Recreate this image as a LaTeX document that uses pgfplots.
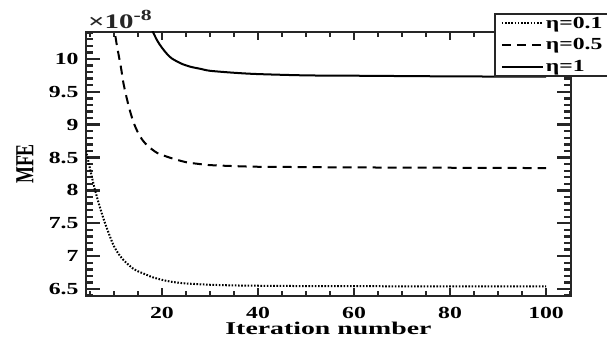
\documentclass[border=0pt]{standalone}
\usepackage{fontspec}
\usepackage{graphicx}
\setmainfont{Liberation Serif}[FakeStretch=1.4]
\newfontfamily\labfont{Liberation Serif}[FakeStretch=1.55]
\newfontfamily\plainfont{Liberation Serif}
\usepackage{pgfplots}
\pgfplotsset{compat=1.18}
\definecolor{axgray}{RGB}{38,38,38}
\pgfplotsset{
  common/.style={
    at={(0,0)}, anchor=south west,
    width=485bp, height=264bp, scale only axis,
    xmin=4.17, xmax=105.2, ymin=6.394, ymax=10.41,
    tick align=inside,
    every tick/.style={line width=2.4bp, color=axgray},
    /pgf/number format/assume math mode=true,
    tick label style={font=\fontsize{17}{20}\selectfont\bfseries},
  }
}
\begin{document}
\begin{tikzpicture}
\useasboundingbox (-86bp,-47bp) rectangle (521bp,296bp);
% y ticks axis
\begin{axis}[common,
  xtick=\empty,
  ytick={6.5,7,7.5,8,8.5,9,9.5,10},
  yticklabels={6.5,7,7.5,8,8.5,9,9.5,10},
  minor ytick={6.4,6.6,6.7,6.8,6.9,7.1,7.2,7.3,7.4,7.6,7.7,7.8,7.9,8.1,8.2,8.3,8.4,8.6,8.7,8.8,8.9,9.1,9.2,9.3,9.4,9.6,9.7,9.8,9.9,10.1,10.2,10.3,10.4},
  major tick length=14bp, minor tick length=7bp,
  axis line style={draw=none},
  yticklabel style={xshift=-4bp},
  ylabel={\scalebox{1}[1.45]{\plainfont\fontsize{18}{20}\selectfont\bfseries MFE}},
  ylabel style={at={(axis description cs:-0.126,0.5)}, anchor=center},
  title={\scalebox{1.22}{×10\raisebox{6bp}{\scalebox{0.75}{-8}}}},
  title style={font=\fontsize{17}{20}\selectfont\bfseries, text=axgray,
    at={(axis description cs:0,1)}, anchor=base west, inner sep=0pt,
    xshift=2bp, yshift=-2bp},
]
\end{axis}
% main axis
\begin{axis}[common,
  name=main,
  xtick={20,40,60,80,100},
  minor xtick={5,10,15,25,30,35,45,50,55,65,70,75,85,90,95,105},
  ytick=\empty,
  major tick length=8bp, minor tick length=5bp,
  axis line style={line width=2.5bp, color=axgray},
  xticklabel style={inner sep=0pt, yshift=-11bp},
  xlabel={\labfont\fontsize{18}{20}\selectfont\bfseries Iteration number},
  xlabel style={at={(axis description cs:0.5,0)}, anchor=base, inner sep=0pt, yshift=-38bp},
  legend style={at={(0.841,1.072)}, anchor=north west, draw=axgray, line width=2bp,
    fill=white, font=\fontsize{17}{19}\selectfont\bfseries, inner ysep=1bp, inner xsep=6bp,
    row sep=5bp},
  legend cell align=left,
  legend image code/.code={\draw[#1] (0bp,0bp) -- (41bp,0bp);},
]
\addplot[black, line width=2bp, dash pattern=on 1.6bp off 1.6bp, smooth, tension=0.5] coordinates {
(4,8.65) (4.5,8.5) (5,8.33) (6,8.02) (7,7.76) (8,7.53) (9,7.33) (10,7.15) (11,7.03) (12,6.94) (13,6.87) (14,6.81) (15,6.77) (16,6.74) (17,6.71) (18,6.68) (20,6.64) (22,6.61) (25,6.585) (30,6.565) (35,6.555) (40,6.55) (50,6.545) (60,6.543) (80,6.541) (100,6.54)
};
\addlegendentry{η=0.1}
\addplot[black, line width=2bp, dash pattern=on 9bp off 6bp, smooth, tension=0.5] coordinates {
(9.5,10.8) (10,10.5) (10.5,10.25) (11,10.05) (11.5,9.85) (12,9.62) (13,9.30) (14,9.05) (15,8.88) (16,8.76) (17,8.68) (18,8.62) (19,8.57) (20,8.54) (22,8.49) (25,8.43) (28,8.40) (30,8.385) (35,8.37) (40,8.36) (50,8.355) (60,8.35) (80,8.345) (100,8.34)
};
\addlegendentry{η=0.5}
\addplot[black, line width=2bp, smooth, tension=0.5] coordinates {
(17,10.6) (18,10.43) (19,10.28) (20,10.17) (21,10.08) (22,10.01) (24,9.93) (26,9.88) (28,9.85) (30,9.82) (35,9.79) (40,9.77) (50,9.75) (60,9.745) (80,9.735) (100,9.73)
};
\addlegendentry{η=1}
\end{axis}
\end{tikzpicture}
\end{document}
